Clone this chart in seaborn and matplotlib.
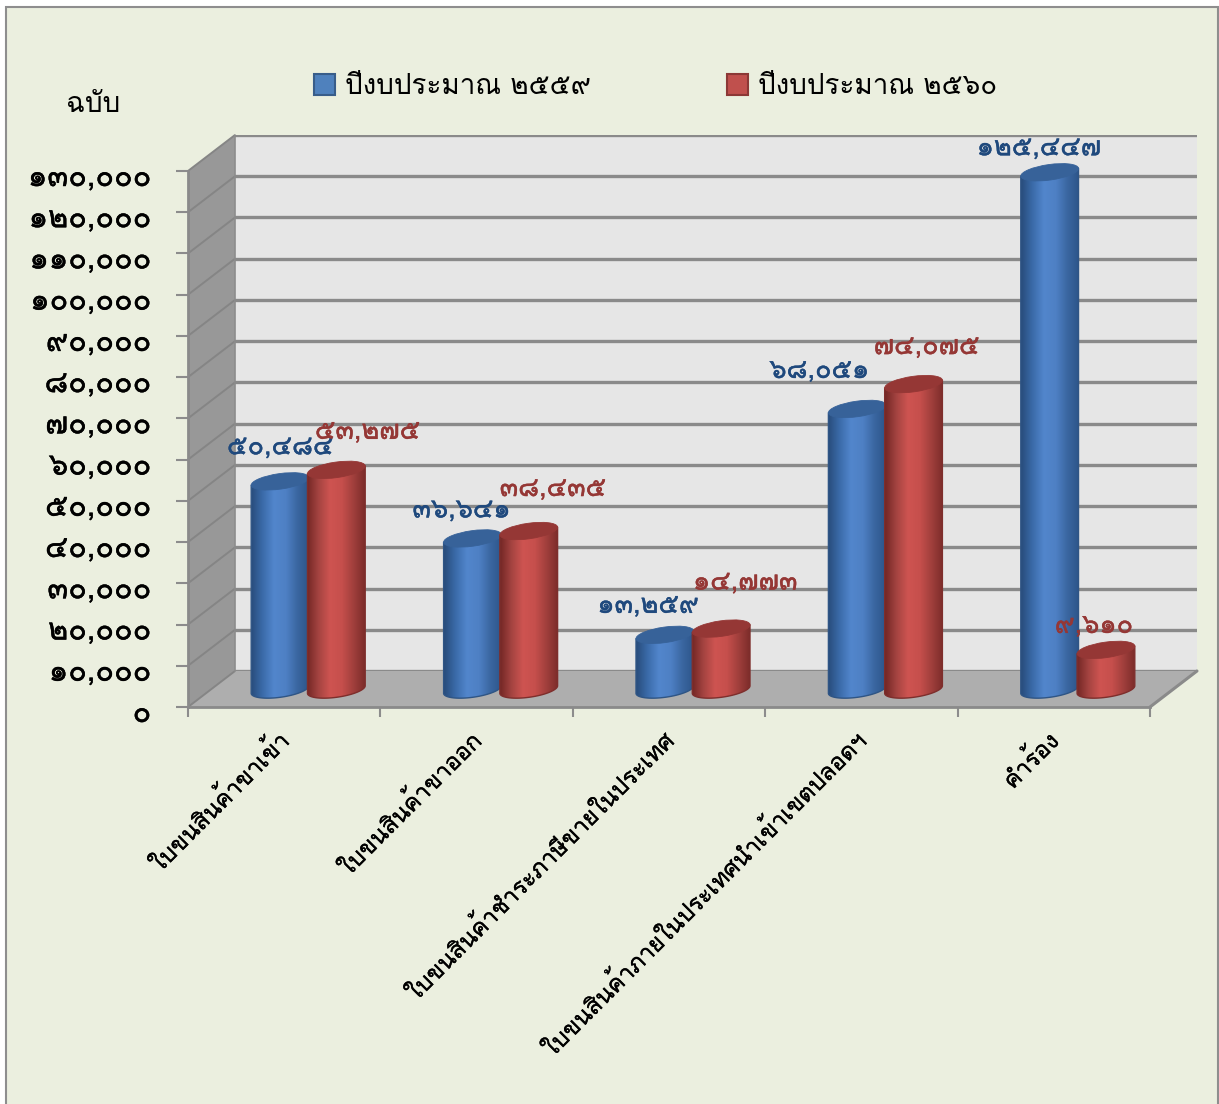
import numpy as np
import pandas as pd
import matplotlib
matplotlib.use("Agg")
import matplotlib.pyplot as plt
import matplotlib.patheffects as pe
from matplotlib.patches import Polygon, Rectangle, Ellipse, Patch
from matplotlib.transforms import Affine2D, IdentityTransform, ScaledTranslation
import seaborn as sns

categories = ["ใบขนสินค้าขาเข้า", "ใบขนสินค้าขาออก", "ใบขนสินค้าชำระภาษีขายในประเทศ",
              "ใบขนสินค้าภายในประเทศนำเข้าเขตปลอดฯ", "คำร้อง"]
series_names = ["ปีงบประมาณ ๒๕๕๙", "ปีงบประมาณ ๒๕๖๐"]
values_2559 = [50484, 36641, 13259, 68051, 125447]
values_2560 = [53275, 38435, 14773, 74075, 9610]
y_ticks = list(range(0, 130001, 10000))
unit_label = "ฉบับ"

THAI = str.maketrans("0123456789", "๐๑๒๓๔๕๖๗๘๙")
def th(v):
    return f"{v:,}".translate(THAI)

W, H = 1219, 1104
sns.set_style("white")
plt.rcParams["font.family"] = ["Loma", "FreeSerif", "DejaVu Sans"]

fig = plt.figure(figsize=(W / 100, H / 100), dpi=100, facecolor="white")

def rect_px(x0, y_top, x1, y_bot):
    return [x0 / W, (H - y_bot) / H, (x1 - x0) / W, (y_bot - y_top) / H]

FX0, FX1, FY0, FY130 = 188, 1150, 707, 171      # front plane pixels
DX, DY = 47, 36                                 # depth of the box
PX = (FY0 - FY130) / 130000                     # pixels per unit

# page + box in pixel coordinates
bg = fig.add_axes([0, 0, 1, 1], zorder=0)
bg.set_xlim(0, W); bg.set_ylim(H, 0); bg.axis("off")
bg.add_patch(Rectangle((6, 7), W - 7.5, H, fc="#EBEFDF", ec="#8E8E8E", lw=1.5))
grid_c = "#8A8A8A"
bg.add_patch(Polygon([(FX0, FY130), (FX0 + DX, FY130 - DY), (FX0 + DX, FY0 - DY), (FX0, FY0)],
                     fc="#989898", ec="none"))
bg.add_patch(Polygon([(FX0 + DX, FY130 - DY), (FX1 + DX, FY130 - DY), (FX1 + DX, FY0 - DY), (FX0 + DX, FY0 - DY)],
                     fc="#E6E6E6", ec="none"))
bg.add_patch(Polygon([(FX0, FY0), (FX1, FY0), (FX1 + DX, FY0 - DY), (FX0 + DX, FY0 - DY)],
                     fc="#AEAEAE", ec="none"))
for t in y_ticks:
    yf = FY0 - t * PX
    bg.plot([FX0, FX0 + DX], [yf, yf - DY], color="#858585", lw=1.4, solid_capstyle="butt")
bg.plot([FX1, FX1 + DX], [FY0, FY0 - DY], color=grid_c, lw=2.2)
bg.plot([FX0 + DX, FX0 + DX], [FY130 - DY, FY0 - DY], color="#8C8C8C", lw=1.2)

# back wall gridlines
back = fig.add_axes(rect_px(FX0 + DX, FY130 - DY, FX1 + DX, FY0 - DY), zorder=1)
back.patch.set_visible(False)
back.set_xlim(-0.5, 4.5); back.set_ylim(0, 130000)
back.set_yticks(y_ticks); back.set_xticks([])
back.tick_params(left=False, labelleft=False)
back.grid(axis="y", color=grid_c, lw=2.4)
sns.despine(ax=back, left=True, bottom=True, right=True, top=True)

# bars on the middle plane (axes extended below zero so the rounded bases show)
BAR_DX, BAR_DY = 24, 17.5
PAD = 24
ax = fig.add_axes(rect_px(FX0 + BAR_DX, FY130 - BAR_DY, FX1 + BAR_DX, FY0 - BAR_DY + PAD), zorder=2)
ax.patch.set_visible(False)
df = pd.DataFrame({
    "category": categories * 2,
    "series": [series_names[0]] * 5 + [series_names[1]] * 5,
    "value": values_2559 + values_2560,
})
palette = ["#4F81BD", "#C0504D"]
sns.barplot(data=df, x="category", y="value", hue="series", order=categories,
            hue_order=series_names, palette=palette, width=0.585, gap=0,
            saturation=1, errorbar=None, legend=False, ax=ax)
YLOW = -PAD / PX
ax.set_xlim(-0.5, 4.5); ax.set_ylim(YLOW, 130000)
ax.axis("off")

stops = [
    dict(body=["#274A78", "#3A6AA8", "#5286CC", "#4E80C4", "#3A66A0", "#2C5488"], top="#376299", edge="#2F5585"),
    dict(body=["#702523", "#A34340", "#CE5451", "#C64F4C", "#A03F3C", "#7A2B29"], top="#953735", edge="#7E2E2C"),
]
def ramp(cols, n=64):
    rgb = np.array([matplotlib.colors.to_rgb(c) for c in cols])
    pos = np.linspace(0, 1, len(cols))
    xs = np.linspace(0, 1, n)
    return np.stack([np.interp(xs, pos, rgb[:, i]) for i in range(3)], axis=1)[None, :, :]

# label offsets in pixels relative to the top of each bar
label_offsets = [
    [(0, 34), (-11, 28), (-17, 29), (-38, 38), (-11, 24)],
    [(31, 38), (24, 42), (24, 46), (13, 37), (-12, 24)],
]
label_colors = ["#1F497D", "#953735"]

def semi_bold(color, lw=0.3):
    return [pe.withStroke(linewidth=lw, foreground=color)]

fig.canvas.draw()
ANGLE = 8
EH = 15.5
bars = list(ax.patches)
all_vals = [values_2559, values_2560]
z = 3
for c in range(5):
    for s in range(2):
        bar = bars[s * 5 + c]
        x0, w, v = bar.get_x(), bar.get_width(), bar.get_height()
        (px0, py0), (px1, py1) = ax.transData.transform([(x0, 0), (x0 + w, v)])
        cx = (px0 + px1) / 2
        wpx = px1 - px0 + 2
        a = np.radians(ANGLE)
        t = np.linspace(np.pi, 2 * np.pi, 40)
        ex, ey = wpx / 2 * np.cos(t), EH / 2 * np.sin(t)
        arc_x = cx + ex * np.cos(a) - ey * np.sin(a)
        arc_y = py0 + ex * np.sin(a) + ey * np.cos(a)
        top_l = (arc_x[0], py1 - (arc_y[-1] - arc_y[0]) / 2)
        top_r = (arc_x[-1], py1 + (arc_y[-1] - arc_y[0]) / 2)
        outline = np.vstack([np.column_stack([arc_x, arc_y]), top_r, top_l])
        clip = Polygon(outline, transform=IdentityTransform(), fc="none", ec="none")
        bar.set_zorder(z)
        bar.set_clip_path(clip)
        ax_inv = ax.transData.inverted()
        (dx0, dy0), (dx1, dy1) = ax_inv.transform([(arc_x[0] - 1, py0 - 20), (arc_x[-1] + 1, py1 + 5)])
        im = ax.imshow(ramp(stops[s]["body"]), extent=(dx0, dx1, dy0, dy1), aspect="auto",
                       zorder=z + 0.1, interpolation="bilinear")
        im.set_clip_path(clip)
        ax.add_artist(Polygon(outline, transform=IdentityTransform(), fc="none",
                              ec=stops[s]["edge"], lw=1.0, zorder=z + 0.2, clip_on=False))
        ax.add_artist(Ellipse((0, 0), wpx, EH, angle=ANGLE,
                              transform=Affine2D().translate(cx, py1),
                              fc=stops[s]["top"], ec=stops[s]["top"], lw=0.6, zorder=z + 0.3, clip_on=False))
        z += 1
        ax.annotate(th(all_vals[s][c]), xy=(x0 + w / 2, v), xycoords="data",
                    xytext=label_offsets[s][c], textcoords="offset pixels",
                    ha="center", va="center", fontsize=19.5,
                    color=label_colors[s], zorder=50, annotation_clip=False,
                    path_effects=semi_bold(label_colors[s]))
ax.set_xlim(-0.5, 4.5); ax.set_ylim(YLOW, 130000)

# front plane axis: ticks and labels
front = fig.add_axes(rect_px(FX0, FY130, FX1, FY0), zorder=3)
front.patch.set_visible(False)
front.set_xlim(0, 5); front.set_ylim(0, 130000)
front.set_yticks(y_ticks)
front.set_yticklabels([th(t) for t in y_ticks], fontsize=22, color="black",
                      path_effects=semi_bold("black"))
front.set_xticks(range(6))
front.set_xticklabels([""] * 6)
front.tick_params(axis="y", length=8.5, width=1.5, color="#8C8C8C", left=True, pad=18)
front.tick_params(axis="x", length=7.5, width=1.5, color="#8C8C8C", bottom=True)
for sp in ("top", "right"):
    front.spines[sp].set_visible(False)
for sp in ("left", "bottom"):
    front.spines[sp].set_color("#8A8A8A"); front.spines[sp].set_linewidth(2.0)
for lab in front.get_yticklabels():
    lab.set_transform(lab.get_transform() + ScaledTranslation(0, -0.04, fig.dpi_scale_trans))
for i, name in enumerate(categories):
    front.annotate(name, xy=(i + 0.5, 0), xycoords="data", xytext=(-7, -22),
                   textcoords="offset pixels", rotation=45, rotation_mode="anchor",
                   ha="right", va="top", fontsize=17, color="black", annotation_clip=False,
                   path_effects=semi_bold("black", 0.25))

# legend
handles = [Patch(fc=palette[0], ec="#385D8A", lw=1.5), Patch(fc=palette[1], ec="#8C3836", lw=1.5)]
fig.legend(handles, series_names, loc="center left", bbox_to_anchor=(314 / W, 1 - 87 / H),
           ncol=2, frameon=False, fontsize=20, handlelength=0.76, handleheight=0.76,
           handletextpad=0.36, columnspacing=4.9, borderpad=0, borderaxespad=0, labelcolor="black")
fig.text(93 / W, 1 - 105 / H, unit_label, ha="center", va="center", fontsize=20, color="black")

fig.savefig("out.png", dpi=100, facecolor="white")
